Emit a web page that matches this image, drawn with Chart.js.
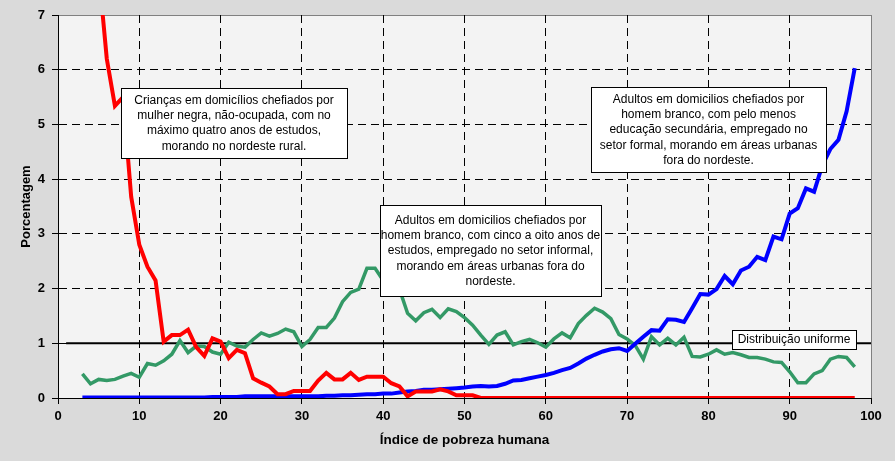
<!DOCTYPE html>
<html><head><meta charset="utf-8">
<script src="https://cdn.jsdelivr.net/npm/chart.js@4.4.0/dist/chart.umd.min.js"></script>
<style>html,body{margin:0;padding:0;background:#d9d9d9;}#wrap{width:895px;height:461px;}</style>
</head><body><div id="wrap"><canvas id="c" width="895" height="461"></canvas></div>
<script>
const povertyIndex = [3,4,5,6,7,8,9,10,11,12,13,14,15,16,17,18,19,20,21,22,23,24,25,26,27,28,29,30,31,32,33,34,35,36,37,38,39,40,41,42,43,44,45,46,47,48,49,50,51,52,53,54,55,56,57,58,59,60,61,62,63,64,65,66,67,68,69,70,71,72,73,74,75,76,77,78,79,80,81,82,83,84,85,86,87,88,89,90,91,92,93,94,95,96,97,98];
const criancasNordesteRural = [11.0,9.2,7.8,6.2,5.34,5.5,3.68,2.8,2.4,2.15,1.03,1.15,1.15,1.25,0.93,0.77,1.09,1.03,0.73,0.88,0.82,0.36,0.28,0.21,0.07,0.07,0.13,0.13,0.13,0.32,0.46,0.34,0.34,0.46,0.33,0.39,0.39,0.39,0.27,0.21,0.03,0.12,0.12,0.12,0.16,0.12,0.05,0.05,0.05,0,0,0,0,0,0,0,0,0,0,0,0,0,0,0,0,0,0,0,0,0,0,0,0,0,0,0,0,0,0,0,0,0,0,0,0,0,0,0,0,0,0,0,0,0,0,0];
const adultosSecundaria = [0.01,0.01,0.01,0.01,0.01,0.01,0.01,0.01,0.01,0.01,0.01,0.01,0.01,0.01,0.01,0.01,0.02,0.02,0.02,0.02,0.03,0.03,0.03,0.03,0.03,0.03,0.03,0.03,0.03,0.03,0.04,0.04,0.05,0.05,0.06,0.07,0.07,0.08,0.08,0.10,0.12,0.13,0.15,0.15,0.16,0.17,0.18,0.19,0.21,0.22,0.21,0.22,0.26,0.32,0.33,0.36,0.39,0.42,0.46,0.51,0.55,0.63,0.72,0.79,0.85,0.89,0.91,0.86,0.99,1.12,1.24,1.23,1.44,1.43,1.39,1.64,1.90,1.89,1.99,2.23,2.08,2.33,2.40,2.58,2.52,2.95,2.90,3.37,3.47,3.83,3.77,4.25,4.55,4.72,5.24,6.03];
const adultosInformal = [0.44,0.26,0.34,0.32,0.34,0.40,0.45,0.38,0.63,0.60,0.68,0.80,1.05,0.83,0.95,0.94,0.84,0.80,1.02,0.95,0.93,1.07,1.19,1.13,1.18,1.26,1.21,0.94,1.07,1.29,1.29,1.46,1.76,1.93,1.99,2.37,2.37,2.15,2.05,1.99,1.55,1.41,1.56,1.62,1.47,1.63,1.58,1.47,1.33,1.15,0.98,1.15,1.21,0.97,1.03,1.07,1.01,0.93,1.08,1.19,1.10,1.36,1.51,1.64,1.57,1.45,1.16,1.08,0.96,0.71,1.12,0.97,1.09,0.97,1.11,0.76,0.75,0.80,0.88,0.80,0.83,0.79,0.74,0.74,0.71,0.66,0.65,0.48,0.28,0.28,0.44,0.50,0.71,0.76,0.74,0.57];
const uniformeX = [1,100];
const uniformeY = [1,1];

const nota1 = ["Crianças em domicílios chefiados por","mulher negra, não-ocupada, com no","máximo quatro anos de estudos,","morando no nordeste rural."];
const nota2 = ["Adultos em domicilios chefiados por","homem branco, com cinco a oito anos de","estudos, empregado no setor informal,","morando em áreas urbanas fora do","nordeste."];
const nota3 = ["Adultos em domicilios chefiados por","homem branco, com pelo menos","educação secundária, empregado no","setor formal, morando em áreas urbanas","fora do nordeste."];
const nota4 = ["Distribuição uniforme"];

const FONT = '"Liberation Sans", Arial, sans-serif';
const pts = (xs, ys) => xs.map((x, i) => ({x: x, y: ys[i]}));

const notes = [
  {x: 7.75, y: 5.67, w: 226, h: 70, lines: nota1},
  {x: 39.6, y: 3.53, w: 221, h: 91, lines: nota2},
  {x: 65.6, y: 5.68, w: 235, h: 85, lines: nota3},
  {x: 82.9, y: 1.24, w: 124, h: 19, lines: nota4}
];

const bgPlugin = {
  id: 'bg',
  beforeDraw(chart) {
    const {ctx, chartArea: a} = chart;
    ctx.save();
    ctx.fillStyle = '#dadada';
    ctx.fillRect(0, 0, chart.width, chart.height);
    ctx.fillStyle = '#f3f3f3';
    ctx.fillRect(a.left, a.top, a.right - a.left, a.bottom - a.top);
    ctx.strokeStyle = '#808080';
    ctx.lineWidth = 1;
    ctx.strokeRect(Math.round(a.left) + 0.5, Math.round(a.top) + 0.5, Math.round(a.right - a.left), Math.round(a.bottom - a.top));
    ctx.restore();
  }
};

const notesPlugin = {
  id: 'notes',
  afterDatasetsDraw(chart) {
    const {ctx} = chart;
    const xs = chart.scales.x, ys = chart.scales.y;
    ctx.save();
    ctx.font = '12px ' + FONT;
    ctx.textAlign = 'center';
    ctx.textBaseline = 'middle';
    const lh = 15.3;
    notes.forEach(n => {
      const l = Math.round(xs.getPixelForValue(n.x));
      const t = Math.round(ys.getPixelForValue(n.y));
      ctx.fillStyle = '#ffffff';
      ctx.fillRect(l, t, n.w, n.h);
      ctx.strokeStyle = '#000000';
      ctx.lineWidth = 1;
      ctx.strokeRect(l + 0.5, t + 0.5, n.w, n.h);
      ctx.fillStyle = '#000000';
      const start = t + (n.h - lh * n.lines.length) / 2 + lh / 2 + 0.5;
      n.lines.forEach((s, i) => ctx.fillText(s, l + n.w / 2, start + i * lh));
    });
    ctx.restore();
  }
};

new Chart(document.getElementById('c'), {
  type: 'line',
  data: {
    datasets: [
      {label: 'Crianças', data: pts(povertyIndex, criancasNordesteRural), borderColor: '#ff0000', borderWidth: 4, pointRadius: 0, tension: 0, order: 1},
      {label: 'Secundária', data: pts(povertyIndex, adultosSecundaria), borderColor: '#0000ff', borderWidth: 4, pointRadius: 0, tension: 0, order: 2},
      {label: 'Informal', data: pts(povertyIndex, adultosInformal), borderColor: '#339966', borderWidth: 3.5, pointRadius: 0, tension: 0, order: 3},
      {label: 'Uniforme', data: pts(uniformeX, uniformeY), borderColor: '#000000', borderWidth: 2, pointRadius: 0, tension: 0, order: 4}
    ]
  },
  options: {
    responsive: false,
    animation: false,
    devicePixelRatio: 1,
    layout: {padding: {left: 0, top: 15, right: 24, bottom: 0}},
    plugins: {legend: {display: false}, tooltip: {enabled: false}},
    scales: {
      x: {
        type: 'linear', min: 0, max: 100,
        afterFit(s) { s.height = 63; },
        ticks: {stepSize: 10, color: '#000', padding: 5, maxRotation: 0, font: {family: FONT, size: 13, weight: 'bold'}},
        grid: {
          color: c => (c.tick && (c.tick.value === 0 || c.tick.value === 100)) ? 'rgba(0,0,0,0)' : '#000',
          lineWidth: 1, tickLength: 6, tickColor: '#000', tickBorderDash: []
        },
        border: {display: true, color: '#000', width: 1, dash: [8, 5]},
        title: {display: true, text: 'Índice de pobreza humana', color: '#000', font: {family: FONT, size: 13.5, weight: 'bold'}, padding: {top: 0, bottom: 13}}
      },
      y: {
        min: 0, max: 7,
        afterFit(s) { s.width = 58; },
        ticks: {stepSize: 1, color: '#000', padding: 7, font: {family: FONT, size: 13, weight: 'bold'}},
        grid: {
          color: c => (c.tick && (c.tick.value === 0 || c.tick.value === 7)) ? 'rgba(0,0,0,0)' : '#000',
          lineWidth: 1, tickLength: 6, tickColor: '#000', tickBorderDash: []
        },
        border: {display: true, color: '#000', width: 1, dash: [8, 5]},
        title: {display: true, text: 'Porcentagem', color: '#000', font: {family: FONT, size: 13, weight: 'bold'}, padding: {top: 19, bottom: 0}}
      }
    }
  },
  plugins: [bgPlugin, notesPlugin]
});
</script></body></html>
